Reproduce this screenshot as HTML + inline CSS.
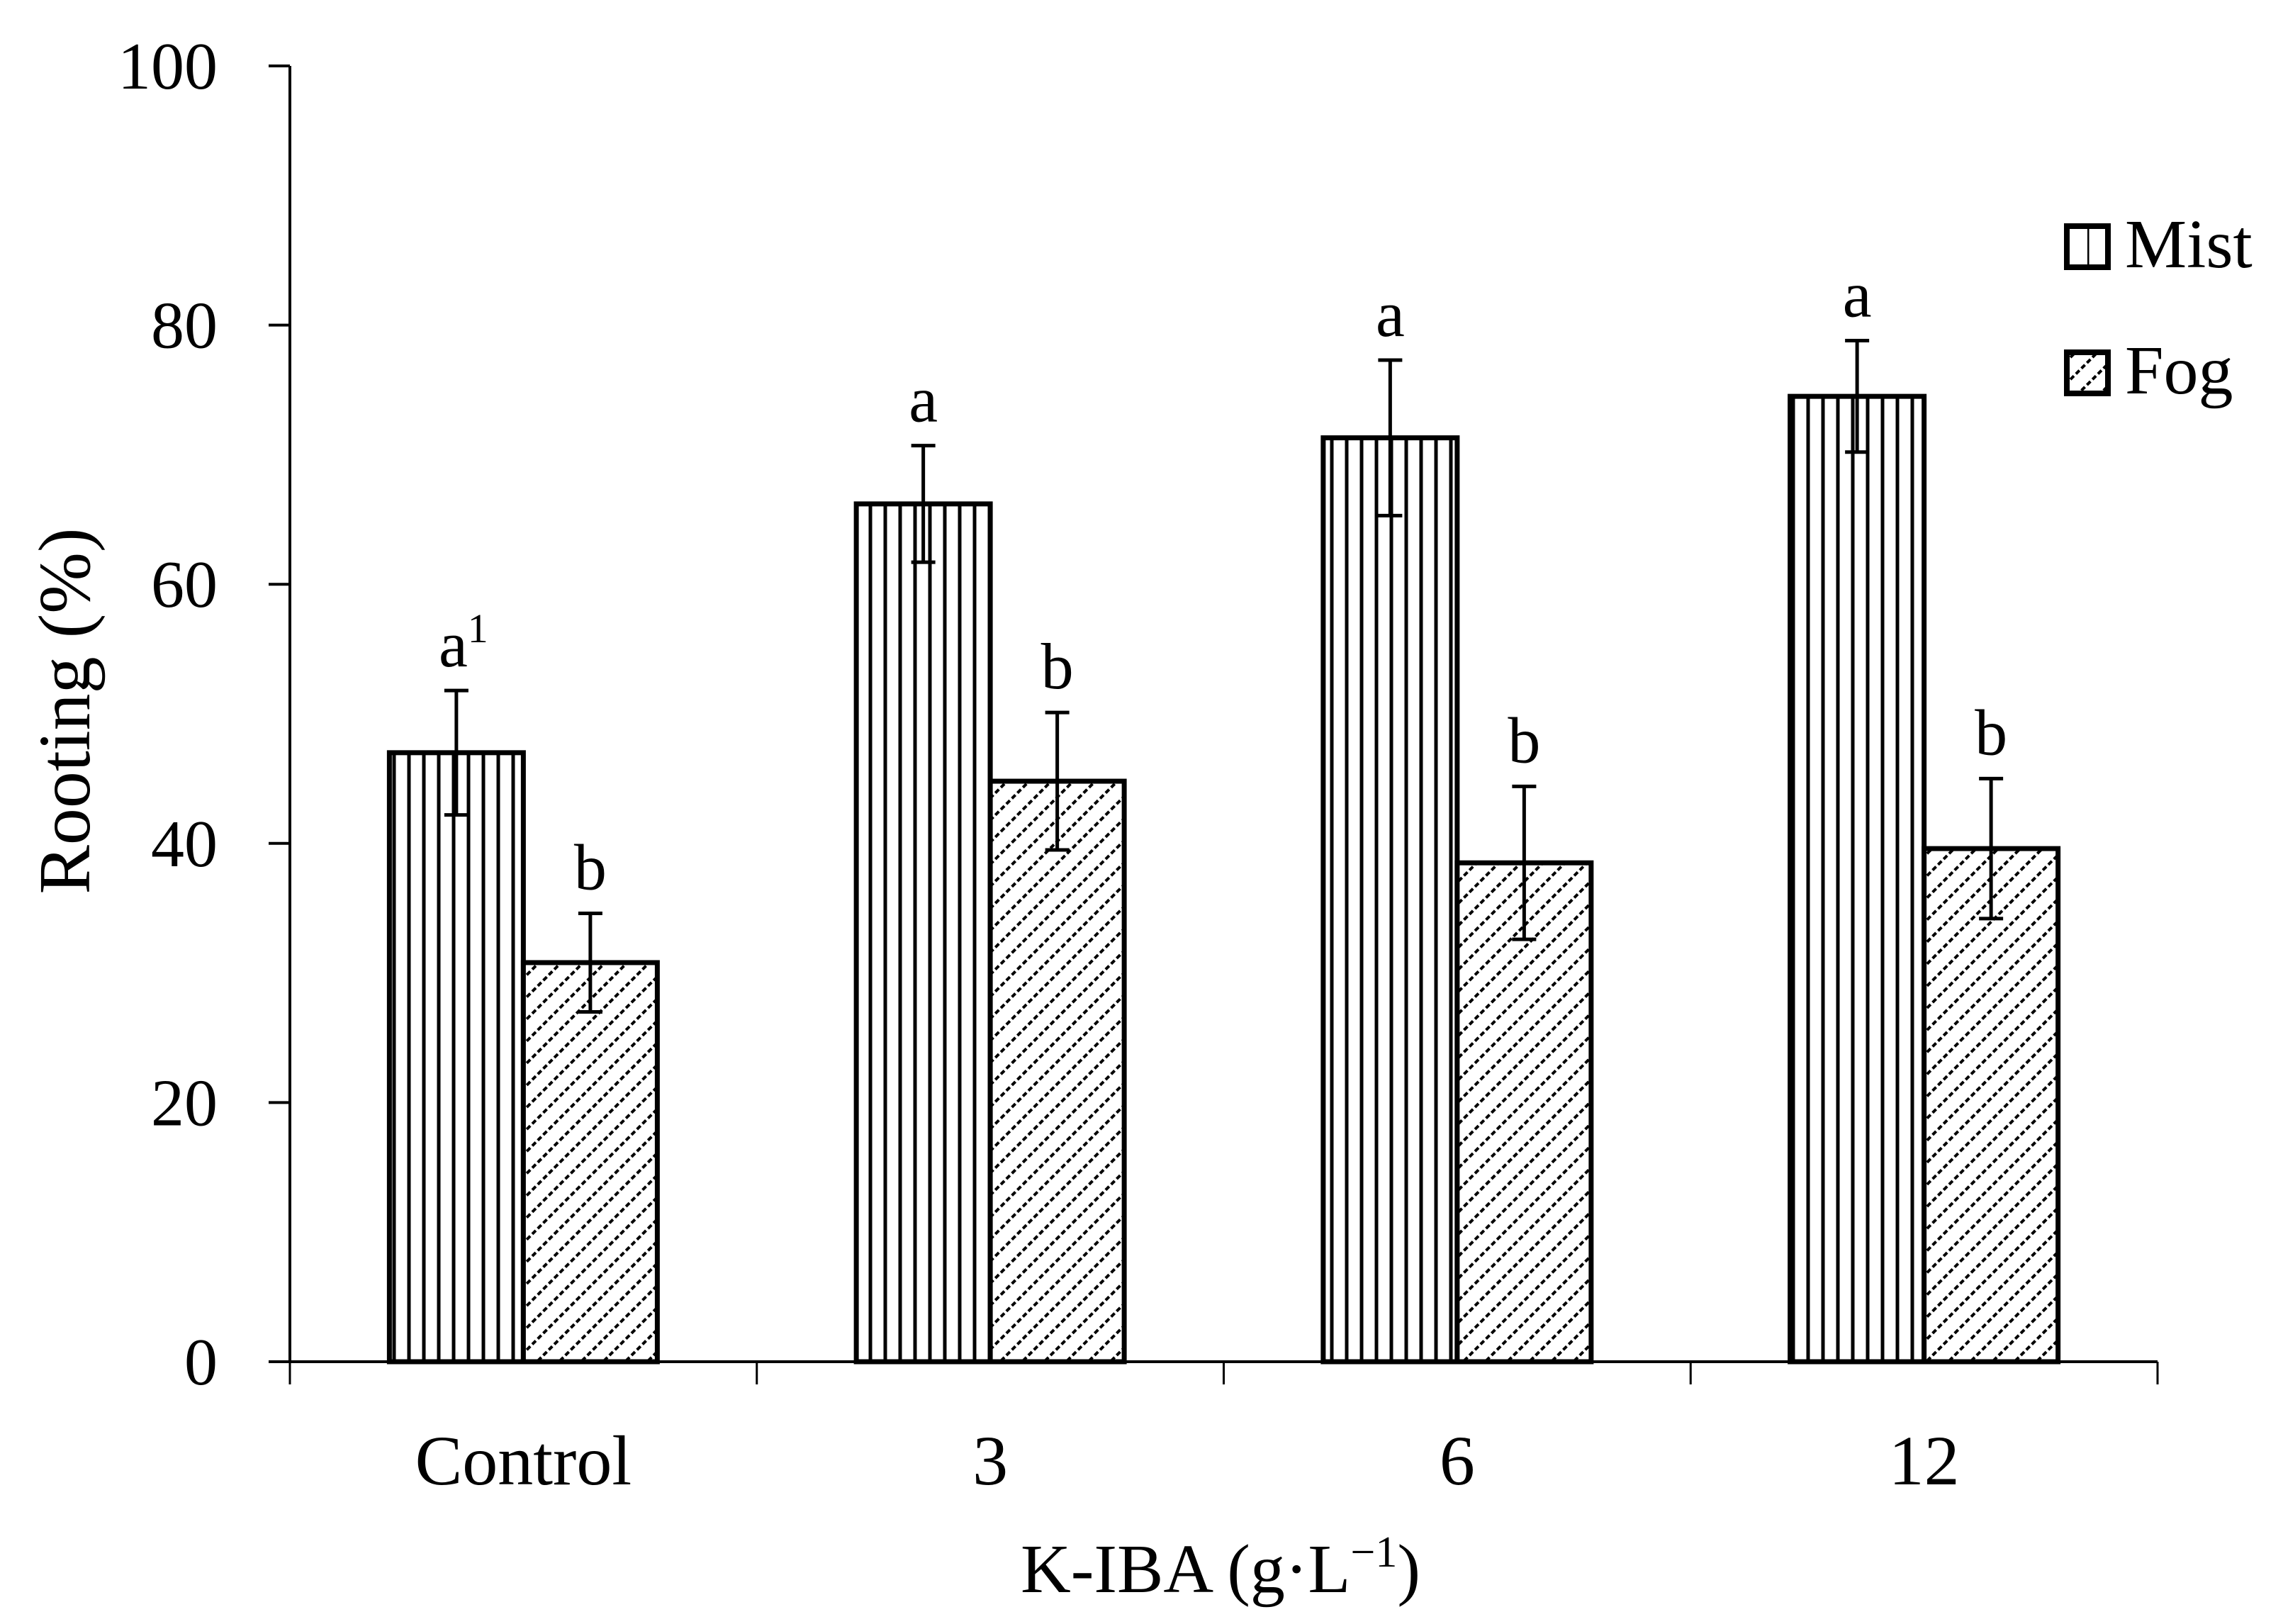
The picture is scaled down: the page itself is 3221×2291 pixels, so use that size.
<!DOCTYPE html>
<html><head><meta charset="utf-8"><style>
html,body{margin:0;padding:0;background:#fff;}
svg{display:block;font-family:"Liberation Serif",serif;}
</style></head><body>
<svg id="chart" width="3221" height="2291" viewBox="0 0 3221 2291" xmlns="http://www.w3.org/2000/svg">
<defs>
<pattern id="vert" patternUnits="userSpaceOnUse" width="21" height="21">
<rect width="21" height="21" fill="#fff"/>
<line x1="10" y1="0" x2="10" y2="21" stroke="#000" stroke-width="5"/>
</pattern>
<pattern id="vertLegend" patternUnits="userSpaceOnUse" width="29" height="29" x="2916">
<rect width="29" height="29" fill="#fff"/>
<line x1="0" y1="0" x2="0" y2="29" stroke="#000" stroke-width="5"/>
</pattern>
<pattern id="diag" patternUnits="userSpaceOnUse" width="22" height="22" patternTransform="rotate(45)">
<rect width="22" height="22" fill="#fff"/>
<line x1="0" y1="0" x2="0" y2="22" stroke="#000" stroke-width="8" stroke-dasharray="7 4"/>
</pattern>
</defs>
<g id="plot"></g>
</svg>
<script>
const categories = ["Control", "3", "6", "12"];
const mistValues = [47.0, 66.2, 71.3, 74.5];
const mistErrors = [4.8, 4.5, 6.0, 4.3];
const fogValues = [30.8, 44.8, 38.5, 39.6];
const fogErrors = [3.8, 5.3, 5.9, 5.4];
const mistLetters = ["a", "a", "a", "a"];
const fogLetters = ["b", "b", "b", "b"];
const yTicks = [0, 20, 40, 60, 80, 100];

const NS = "http://www.w3.org/2000/svg";
const g = document.getElementById("plot");
const X0 = 409, X1 = 3044, Y0 = 1921, Y100 = 93;
const catW = (X1 - X0) / categories.length;
const barW = 189;
function yS(v){ return Y0 + (Y100 - Y0) * v / 100; }
function catStart(i){ return X0 + i * catW; }
function mk(tag, attrs, parent){
  const e = document.createElementNS(NS, tag);
  for (const k in attrs) e.setAttribute(k, attrs[k]);
  (parent || g).appendChild(e);
  return e;
}

const ya = mk("line", {x1:X0, y1:Y100, x2:X0, y2:Y0, stroke:"#000", "stroke-width":4});


yTicks.forEach(t => {
  const y = yS(t);
  const tk = mk("line", {x1:X0-30, y1:y, x2:X0, y2:y, stroke:"#000", "stroke-width":4});
  
  
  const tl = mk("text", {x:X0-102, y:y+32, "text-anchor":"end", "font-size":94});
  tl.textContent = t;
  
  
});
const xa = mk("line", {x1:X0, y1:Y0, x2:X1, y2:Y0, stroke:"#000", "stroke-width":4});


for (let i = 0; i <= categories.length; i++){
  const x = catStart(i);
  const tk = mk("line", {x1:x, y1:Y0, x2:x, y2:Y0+32, stroke:"#000", "stroke-width":3});
  
  
}

function errBar(cx, v, e){
  const yt = yS(v + e), yb = yS(v - e);
  const l = mk("line", {x1:cx, y1:yt, x2:cx, y2:yb, stroke:"#000", "stroke-width":5});
  
  
  const c1 = mk("line", {x1:cx-17, y1:yt, x2:cx+17, y2:yt, stroke:"#000", "stroke-width":5});
  
  
  const c2 = mk("line", {x1:cx-17, y1:yb, x2:cx+17, y2:yb, stroke:"#000", "stroke-width":5});
  
  
  return yt;
}

categories.forEach((c, i) => {
  const center = catStart(i) + catW / 2;
  const mx = center - barW, fx = center;
  const mb = mk("rect", {x:mx, y:yS(mistValues[i]), width:barW, height:Y0 - yS(mistValues[i]), fill:"url(#vert)", stroke:"#000", "stroke-width":7});
  
  
  const fb = mk("rect", {x:fx, y:yS(fogValues[i]), width:barW, height:Y0 - yS(fogValues[i]), fill:"url(#diag)", stroke:"#000", "stroke-width":7});
  
  
  const mt = errBar(mx + barW/2, mistValues[i], mistErrors[i]);
  const ft = errBar(fx + barW/2, fogValues[i], fogErrors[i]);
  const ml = mk("text", {x:mx + barW/2 + (i === 0 ? 10 : 0), y:mt - 34, "text-anchor":"middle", "font-size":92});
  ml.textContent = mistLetters[i];
  if (i === 0){
    const sup = mk("tspan", {"font-size":58, dy:-34}, ml);
    sup.textContent = "1";
  }
  
  
  const fl = mk("text", {x:fx + barW/2, y:ft - 34, "text-anchor":"middle", "font-size":92});
  fl.textContent = fogLetters[i];
  
  
  const xl = mk("text", {x:center, y:2094, "text-anchor":"middle", "font-size":100});
  xl.textContent = c;
  
  
});

const yt = mk("text", {x:0, y:0, "text-anchor":"middle", "font-size":104, transform:"translate(126,1003) rotate(-90)"});
yt.textContent = "Rooting (%)";


const xt = mk("text", {x:1722, y:2246, "text-anchor":"middle", "font-size":98});
xt.textContent = "K-IBA (g·L";
const xs = mk("tspan", {"font-size":62, dy:-36}, xt);
xs.textContent = "−1";
const xc = mk("tspan", {dy:36}, xt);
xc.textContent = ")";



const lg = mk("g", {});


const lm = mk("rect", {x:2916, y:319, width:58, height:58, fill:"url(#vertLegend)", stroke:"#000", "stroke-width":8}, lg);


const lmt = mk("text", {x:2998, y:377, "font-size":98}, lg);
lmt.textContent = "Mist";


const lf = mk("rect", {x:2916, y:497, width:58, height:58, fill:"url(#diag)", stroke:"#000", "stroke-width":8}, lg);


const lft = mk("text", {x:2998, y:555, "font-size":98}, lg);
lft.textContent = "Fog";


</script>
</body></html>
